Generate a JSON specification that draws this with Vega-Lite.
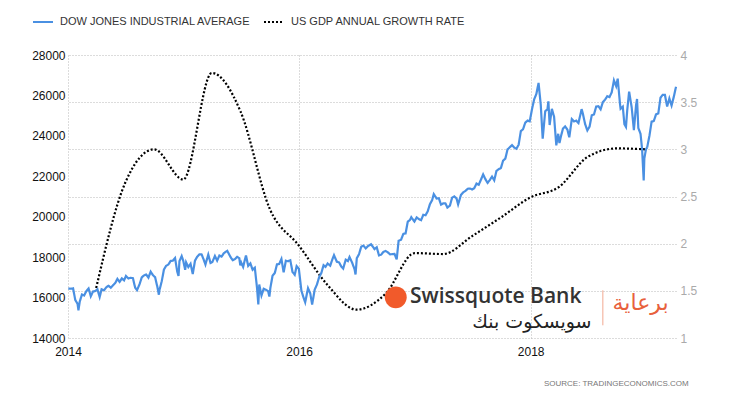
{
  "$schema": "https://vega.github.io/schema/vega-lite/v6.json",
  "width": 608,
  "height": 283,
  "autosize": {"type": "none"},
  "padding": {"left": 68, "top": 55, "right": 54, "bottom": 62},
  "background": "white",
  "config": {
    "view": {"stroke": null},
    "font": "Liberation Sans",
    "axis": {"domain": false, "ticks": false, "grid": true, "gridDash": [1, 2], "gridColor": "#b8b8b8", "gridWidth": 1, "labelFont": "Liberation Sans", "labelFontSize": 12, "labelColor": "#111", "title": null},
    "legend": {"orient": "none", "legendX": -36, "legendY": -44, "direction": "horizontal", "title": null, "symbolType": "stroke", "symbolStrokeWidth": 2, "symbolSize": 400, "labelFont": "Liberation Sans", "labelFontSize": 11, "labelColor": "#333", "labelLimit": 0, "columnPadding": 9, "labelOffset": 6}
  },
  "title": {"text": "SOURCE:  TRADINGECONOMICS.COM", "orient": "bottom", "anchor": "end", "font": "Liberation Sans", "fontSize": 8, "fontWeight": "normal", "color": "#777", "offset": 23, "dx": -8},
  "datasets": {
    "gdp": [
      {"d": "2014-03-31", "g": 1.53}, {"d": "2014-06-30", "g": 2.64}, {"d": "2014-09-30", "g": 3.0}, {"d": "2014-12-31", "g": 2.68},
      {"d": "2015-03-31", "g": 3.81}, {"d": "2015-06-30", "g": 3.4}, {"d": "2015-09-30", "g": 2.37}, {"d": "2015-12-31", "g": 1.98},
      {"d": "2016-03-31", "g": 1.56}, {"d": "2016-06-30", "g": 1.3}, {"d": "2016-09-30", "g": 1.47}, {"d": "2016-12-31", "g": 1.9},
      {"d": "2017-03-31", "g": 1.89}, {"d": "2017-06-30", "g": 2.08}, {"d": "2017-09-30", "g": 2.28}, {"d": "2017-12-31", "g": 2.49},
      {"d": "2018-03-31", "g": 2.6}, {"d": "2018-06-30", "g": 2.92}, {"d": "2018-09-30", "g": 3.01}, {"d": "2018-12-31", "g": 3.0}
    ],
    "dow": [
      {"d": "2014-01-02", "v": 16441}, {"d": "2014-01-10", "v": 16437}, {"d": "2014-01-17", "v": 16458}, {"d": "2014-01-24", "v": 15879}, {"d": "2014-01-31", "v": 15698}, {"d": "2014-02-03", "v": 15372}, {"d": "2014-02-07", "v": 15794}, {"d": "2014-02-14", "v": 16154}, {"d": "2014-02-21", "v": 16103}, {"d": "2014-02-28", "v": 16321},
      {"d": "2014-03-07", "v": 16452}, {"d": "2014-03-14", "v": 16065}, {"d": "2014-03-21", "v": 16302}, {"d": "2014-03-28", "v": 16323}, {"d": "2014-04-04", "v": 16412}, {"d": "2014-04-11", "v": 16027}, {"d": "2014-04-17", "v": 16409}, {"d": "2014-04-25", "v": 16361}, {"d": "2014-05-02", "v": 16513}, {"d": "2014-05-09", "v": 16583},
      {"d": "2014-05-16", "v": 16491}, {"d": "2014-05-23", "v": 16606}, {"d": "2014-05-30", "v": 16717}, {"d": "2014-06-06", "v": 16924}, {"d": "2014-06-13", "v": 16776}, {"d": "2014-06-20", "v": 16947}, {"d": "2014-06-27", "v": 16851}, {"d": "2014-07-03", "v": 17068}, {"d": "2014-07-11", "v": 16944}, {"d": "2014-07-17", "v": 16976},
      {"d": "2014-07-25", "v": 16961}, {"d": "2014-08-01", "v": 16493}, {"d": "2014-08-07", "v": 16368}, {"d": "2014-08-15", "v": 16663}, {"d": "2014-08-22", "v": 17001}, {"d": "2014-08-29", "v": 17098}, {"d": "2014-09-05", "v": 17138}, {"d": "2014-09-12", "v": 16988}, {"d": "2014-09-19", "v": 17280}, {"d": "2014-09-26", "v": 17113},
      {"d": "2014-10-03", "v": 17009}, {"d": "2014-10-10", "v": 16544}, {"d": "2014-10-15", "v": 16141}, {"d": "2014-10-17", "v": 16380}, {"d": "2014-10-24", "v": 16805}, {"d": "2014-10-31", "v": 17391}, {"d": "2014-11-07", "v": 17573}, {"d": "2014-11-14", "v": 17635}, {"d": "2014-11-21", "v": 17810}, {"d": "2014-11-28", "v": 17828},
      {"d": "2014-12-05", "v": 17958}, {"d": "2014-12-12", "v": 17281}, {"d": "2014-12-16", "v": 17068}, {"d": "2014-12-19", "v": 17805}, {"d": "2014-12-26", "v": 18053}, {"d": "2014-12-31", "v": 17823},
      {"d": "2015-01-06", "v": 17371}, {"d": "2015-01-09", "v": 17738}, {"d": "2015-01-16", "v": 17511}, {"d": "2015-01-23", "v": 17673}, {"d": "2015-01-30", "v": 17165}, {"d": "2015-02-06", "v": 17825}, {"d": "2015-02-13", "v": 18019}, {"d": "2015-02-20", "v": 18141}, {"d": "2015-02-27", "v": 18133}, {"d": "2015-03-06", "v": 17857},
      {"d": "2015-03-11", "v": 17635}, {"d": "2015-03-13", "v": 17750}, {"d": "2015-03-20", "v": 18128}, {"d": "2015-03-27", "v": 17713}, {"d": "2015-04-02", "v": 17763}, {"d": "2015-04-10", "v": 18058}, {"d": "2015-04-17", "v": 17827}, {"d": "2015-04-24", "v": 18080}, {"d": "2015-05-01", "v": 18025}, {"d": "2015-05-08", "v": 18191},
      {"d": "2015-05-15", "v": 18273}, {"d": "2015-05-19", "v": 18312}, {"d": "2015-05-29", "v": 18011}, {"d": "2015-06-05", "v": 17849}, {"d": "2015-06-12", "v": 17899}, {"d": "2015-06-19", "v": 18016}, {"d": "2015-06-26", "v": 17947}, {"d": "2015-06-29", "v": 17597}, {"d": "2015-07-02", "v": 17730}, {"d": "2015-07-08", "v": 17515},
      {"d": "2015-07-17", "v": 18086}, {"d": "2015-07-24", "v": 17569}, {"d": "2015-07-31", "v": 17690}, {"d": "2015-08-07", "v": 17373}, {"d": "2015-08-14", "v": 17477}, {"d": "2015-08-21", "v": 16460}, {"d": "2015-08-25", "v": 15666}, {"d": "2015-08-28", "v": 16643}, {"d": "2015-09-04", "v": 16102}, {"d": "2015-09-11", "v": 16433},
      {"d": "2015-09-18", "v": 16385}, {"d": "2015-09-25", "v": 16315}, {"d": "2015-09-29", "v": 16049}, {"d": "2015-10-02", "v": 16472}, {"d": "2015-10-09", "v": 17084}, {"d": "2015-10-16", "v": 17216}, {"d": "2015-10-23", "v": 17647}, {"d": "2015-10-30", "v": 17663}, {"d": "2015-11-06", "v": 17910}, {"d": "2015-11-13", "v": 17245},
      {"d": "2015-11-20", "v": 17824}, {"d": "2015-11-27", "v": 17798}, {"d": "2015-12-04", "v": 17848}, {"d": "2015-12-11", "v": 17265}, {"d": "2015-12-18", "v": 17128}, {"d": "2015-12-24", "v": 17553}, {"d": "2015-12-31", "v": 17425},
      {"d": "2016-01-08", "v": 16346}, {"d": "2016-01-15", "v": 15988}, {"d": "2016-01-20", "v": 15766}, {"d": "2016-01-29", "v": 16466}, {"d": "2016-02-05", "v": 16205}, {"d": "2016-02-11", "v": 15660}, {"d": "2016-02-19", "v": 16392}, {"d": "2016-02-26", "v": 16640}, {"d": "2016-03-04", "v": 17006}, {"d": "2016-03-11", "v": 17213},
      {"d": "2016-03-18", "v": 17602}, {"d": "2016-03-24", "v": 17516}, {"d": "2016-03-31", "v": 17685}, {"d": "2016-04-08", "v": 17577}, {"d": "2016-04-15", "v": 17897}, {"d": "2016-04-20", "v": 18096}, {"d": "2016-04-29", "v": 17773}, {"d": "2016-05-06", "v": 17740}, {"d": "2016-05-13", "v": 17535}, {"d": "2016-05-19", "v": 17435},
      {"d": "2016-05-27", "v": 17873}, {"d": "2016-06-03", "v": 17807}, {"d": "2016-06-08", "v": 18005}, {"d": "2016-06-16", "v": 17733}, {"d": "2016-06-24", "v": 17400}, {"d": "2016-06-27", "v": 17140}, {"d": "2016-07-01", "v": 17949}, {"d": "2016-07-08", "v": 18147}, {"d": "2016-07-15", "v": 18516}, {"d": "2016-07-22", "v": 18571},
      {"d": "2016-07-29", "v": 18432}, {"d": "2016-08-05", "v": 18544}, {"d": "2016-08-15", "v": 18636}, {"d": "2016-08-19", "v": 18553}, {"d": "2016-08-26", "v": 18395}, {"d": "2016-09-02", "v": 18492}, {"d": "2016-09-09", "v": 18085}, {"d": "2016-09-16", "v": 18124}, {"d": "2016-09-23", "v": 18261}, {"d": "2016-09-30", "v": 18308},
      {"d": "2016-10-07", "v": 18240}, {"d": "2016-10-14", "v": 18138}, {"d": "2016-10-21", "v": 18146}, {"d": "2016-10-28", "v": 18161}, {"d": "2016-11-04", "v": 17888}, {"d": "2016-11-10", "v": 18807}, {"d": "2016-11-18", "v": 18868}, {"d": "2016-11-25", "v": 19152}, {"d": "2016-12-02", "v": 19171}, {"d": "2016-12-09", "v": 19757},
      {"d": "2016-12-16", "v": 19843}, {"d": "2016-12-20", "v": 19974}, {"d": "2016-12-30", "v": 19763},
      {"d": "2017-01-06", "v": 19964}, {"d": "2017-01-13", "v": 19886}, {"d": "2017-01-20", "v": 19827}, {"d": "2017-01-27", "v": 20094}, {"d": "2017-02-03", "v": 20071}, {"d": "2017-02-10", "v": 20269}, {"d": "2017-02-17", "v": 20624}, {"d": "2017-02-24", "v": 20822}, {"d": "2017-03-01", "v": 21115}, {"d": "2017-03-10", "v": 20903},
      {"d": "2017-03-17", "v": 20915}, {"d": "2017-03-24", "v": 20597}, {"d": "2017-03-31", "v": 20663}, {"d": "2017-04-07", "v": 20656}, {"d": "2017-04-13", "v": 20453}, {"d": "2017-04-21", "v": 20548}, {"d": "2017-04-28", "v": 20941}, {"d": "2017-05-05", "v": 21007}, {"d": "2017-05-12", "v": 20897}, {"d": "2017-05-17", "v": 20606},
      {"d": "2017-05-26", "v": 21080}, {"d": "2017-06-02", "v": 21206}, {"d": "2017-06-09", "v": 21272}, {"d": "2017-06-16", "v": 21384}, {"d": "2017-06-23", "v": 21395}, {"d": "2017-06-30", "v": 21350}, {"d": "2017-07-07", "v": 21414}, {"d": "2017-07-14", "v": 21638}, {"d": "2017-07-21", "v": 21580}, {"d": "2017-07-28", "v": 21830},
      {"d": "2017-08-04", "v": 22092}, {"d": "2017-08-11", "v": 21858}, {"d": "2017-08-18", "v": 21674}, {"d": "2017-08-25", "v": 21814}, {"d": "2017-09-01", "v": 21988}, {"d": "2017-09-08", "v": 21798}, {"d": "2017-09-15", "v": 22268}, {"d": "2017-09-22", "v": 22350}, {"d": "2017-09-29", "v": 22405}, {"d": "2017-10-06", "v": 22774},
      {"d": "2017-10-13", "v": 22872}, {"d": "2017-10-20", "v": 23329}, {"d": "2017-10-27", "v": 23434}, {"d": "2017-11-03", "v": 23539}, {"d": "2017-11-10", "v": 23422}, {"d": "2017-11-17", "v": 23358}, {"d": "2017-11-24", "v": 23558}, {"d": "2017-12-01", "v": 24232}, {"d": "2017-12-08", "v": 24329}, {"d": "2017-12-15", "v": 24652},
      {"d": "2017-12-22", "v": 24754}, {"d": "2017-12-29", "v": 24719},
      {"d": "2018-01-05", "v": 25296}, {"d": "2018-01-12", "v": 25803}, {"d": "2018-01-19", "v": 26072}, {"d": "2018-01-26", "v": 26617}, {"d": "2018-02-02", "v": 25521}, {"d": "2018-02-08", "v": 23860}, {"d": "2018-02-16", "v": 25219}, {"d": "2018-02-23", "v": 25310}, {"d": "2018-02-26", "v": 25709}, {"d": "2018-03-02", "v": 24538},
      {"d": "2018-03-09", "v": 25336}, {"d": "2018-03-16", "v": 24947}, {"d": "2018-03-23", "v": 23533}, {"d": "2018-03-29", "v": 24103}, {"d": "2018-04-02", "v": 23644}, {"d": "2018-04-06", "v": 23933}, {"d": "2018-04-13", "v": 24360}, {"d": "2018-04-20", "v": 24463}, {"d": "2018-04-27", "v": 24311}, {"d": "2018-05-03", "v": 23930},
      {"d": "2018-05-11", "v": 24831}, {"d": "2018-05-18", "v": 24715}, {"d": "2018-05-25", "v": 24753}, {"d": "2018-06-01", "v": 24635}, {"d": "2018-06-11", "v": 25322}, {"d": "2018-06-15", "v": 25090}, {"d": "2018-06-22", "v": 24581}, {"d": "2018-06-29", "v": 24271}, {"d": "2018-07-06", "v": 24456}, {"d": "2018-07-13", "v": 25019},
      {"d": "2018-07-20", "v": 25058}, {"d": "2018-07-27", "v": 25451}, {"d": "2018-08-03", "v": 25463}, {"d": "2018-08-10", "v": 25313}, {"d": "2018-08-17", "v": 25669}, {"d": "2018-08-24", "v": 25790}, {"d": "2018-08-31", "v": 25965}, {"d": "2018-09-07", "v": 25917}, {"d": "2018-09-14", "v": 26155}, {"d": "2018-09-21", "v": 26744},
      {"d": "2018-09-28", "v": 26458}, {"d": "2018-10-03", "v": 26828}, {"d": "2018-10-10", "v": 25599}, {"d": "2018-10-12", "v": 25340}, {"d": "2018-10-19", "v": 25444}, {"d": "2018-10-24", "v": 24583}, {"d": "2018-10-29", "v": 24443}, {"d": "2018-11-02", "v": 25271}, {"d": "2018-11-08", "v": 26191}, {"d": "2018-11-16", "v": 25413},
      {"d": "2018-11-23", "v": 24286}, {"d": "2018-11-30", "v": 25538}, {"d": "2018-12-03", "v": 25826}, {"d": "2018-12-07", "v": 24389}, {"d": "2018-12-14", "v": 24101}, {"d": "2018-12-19", "v": 23324}, {"d": "2018-12-24", "v": 21792}, {"d": "2018-12-26", "v": 22878}, {"d": "2018-12-31", "v": 23327},
      {"d": "2019-01-04", "v": 23433}, {"d": "2019-01-11", "v": 23996}, {"d": "2019-01-18", "v": 24706}, {"d": "2019-01-25", "v": 24737}, {"d": "2019-02-01", "v": 25064}, {"d": "2019-02-08", "v": 25106}, {"d": "2019-02-15", "v": 25883}, {"d": "2019-02-22", "v": 26031}, {"d": "2019-03-01", "v": 26026}, {"d": "2019-03-08", "v": 25450},
      {"d": "2019-03-15", "v": 25849}, {"d": "2019-03-22", "v": 25502}, {"d": "2019-03-29", "v": 25929}, {"d": "2019-04-05", "v": 26425}
    ]
  },
  "layer": [
    {
      "data": {"name": "gdp"},
      "mark": {"type": "line", "interpolate": "monotone", "strokeWidth": 2.2},
      "encoding": {
        "x": {"field": "d", "type": "temporal", "scale": {"domain": ["2014-01-01", "2019-04-05"]}, "axis": {"tickCount": {"interval": "year", "step": 2}, "format": "%Y", "labelPadding": 8, "labelFlush": false}},
        "y": {"field": "g", "type": "quantitative", "scale": {"domain": [1, 4], "nice": false, "zero": false}, "axis": {"orient": "right", "values": [1, 1.5, 2, 2.5, 3, 3.5, 4], "format": "~g", "labelColor": "#aaaaaa", "labelPadding": 4}},
        "color": {"datum": "US GDP ANNUAL GROWTH RATE", "type": "nominal", "scale": {"domain": ["DOW JONES INDUSTRIAL AVERAGE", "US GDP ANNUAL GROWTH RATE"], "range": ["#4a90e2", "#000000"]}},
        "strokeDash": {"datum": "US GDP ANNUAL GROWTH RATE", "type": "nominal", "scale": {"domain": ["DOW JONES INDUSTRIAL AVERAGE", "US GDP ANNUAL GROWTH RATE"], "range": [[1, 0], [2, 2]]}}
      }
    },
    {
      "layer": [
        {
          "data": {"name": "dow"},
          "mark": {"type": "line", "strokeWidth": 2.2},
          "encoding": {
            "x": {"field": "d", "type": "temporal"},
            "y": {"field": "v", "type": "quantitative", "scale": {"domain": [14000, 28000], "nice": false, "zero": false}, "axis": {"orient": "left", "values": [14000, 16000, 18000, 20000, 22000, 24000, 26000, 28000], "format": "d", "labelPadding": 3}},
            "color": {"datum": "DOW JONES INDUSTRIAL AVERAGE", "type": "nominal"},
            "strokeDash": {"datum": "DOW JONES INDUSTRIAL AVERAGE", "type": "nominal"}
          }
        },
        {
          "data": {"values": [{}]},
          "mark": {"type": "point", "shape": "circle", "filled": true, "color": "#f15a2b", "opacity": 1, "size": 480},
          "encoding": {"x": {"datum": {"year": 2016, "month": 11, "date": 1}, "type": "temporal"}, "y": {"datum": 16010}}
        },
        {
          "data": {"values": [{}]},
          "mark": {"type": "text", "align": "left", "baseline": "middle", "font": "Open Sans", "fontSize": 21, "fontWeight": 600, "color": "#333333", "text": "Swissquote Bank"},
          "encoding": {"x": {"datum": {"year": 2016, "month": 12, "date": 16}, "type": "temporal"}, "y": {"datum": 16010}}
        },
        {
          "data": {"values": [{}]},
          "mark": {"type": "text", "align": "right", "baseline": "middle", "font": "DejaVu Sans", "fontSize": 19, "color": "#222222", "text": "سويسكوت بنك"},
          "encoding": {"x": {"datum": {"year": 2018, "month": 7, "date": 12}, "type": "temporal"}, "y": {"datum": 14777}}
        },
        {
          "data": {"values": [{}]},
          "mark": {"type": "rule", "color": "#f2a890", "strokeWidth": 1},
          "encoding": {"x": {"datum": {"year": 2018, "month": 8, "date": 17}, "type": "temporal"}, "y": {"datum": 16360}, "y2": {"datum": 14628}}
        },
        {
          "data": {"values": [{}]},
          "mark": {"type": "text", "align": "center", "baseline": "middle", "font": "DejaVu Sans", "fontSize": 22, "color": "#e8603c", "text": "برعاية"},
          "encoding": {"x": {"datum": {"year": 2018, "month": 12, "date": 14}, "type": "temporal"}, "y": {"datum": 15717}}
        }
      ]
    }
  ],
  "resolve": {"scale": {"y": "independent"}}
}
